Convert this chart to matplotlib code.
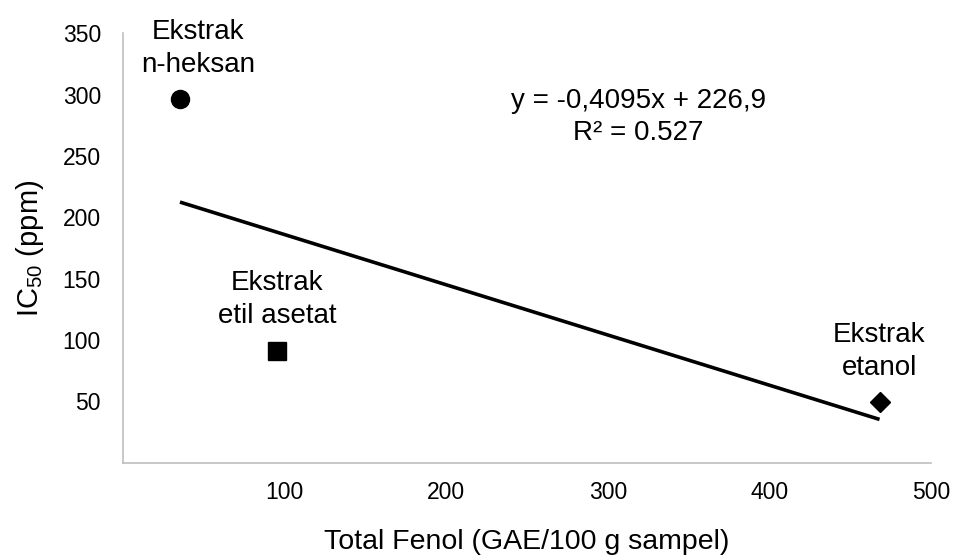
import numpy as np
import matplotlib
matplotlib.use("Agg")
import matplotlib.pyplot as plt

# ---------------------------------------------------
# Data
# ---------------------------------------------------

extract_labels = ["Ekstrak\nn-heksan", "Ekstrak\netil asetat", "Ekstrak\netanol"]
total_fenol = [35.2, 95.4, 468.1]
ic50_ppm = [296.2, 91.0, 49.5]

trend_slope = -0.4095
trend_intercept = 226.9
equation_text = "y = -0,4095x + 226,9\nR² = 0.527"

x_ticks = [100, 200, 300, 400, 500]
y_ticks = [50, 100, 150, 200, 250, 300, 350]

# ---------------------------------------------------
# Styles
# ---------------------------------------------------

plt.rcParams["font.family"] = ["Liberation Sans", "DejaVu Sans"]
plt.rcParams["mathtext.fontset"] = "custom"
plt.rcParams["mathtext.rm"] = "Liberation Sans"
plt.rcParams["mathtext.it"] = "Liberation Sans"

MARKERS = [("o", 13), ("s", 12.5), ("D", 10)]
LABEL_OFFSETS = [(13, 37), (0, 37), (0, 36)]
SPINE_COLOR = "#BFBFBF"

# ---------------------------------------------------
# Figure
# ---------------------------------------------------

fig = plt.figure(figsize=(9.54, 5.58), dpi=100)
ax = fig.add_axes([0.129, 0.171, 0.847, 0.769])

for i in range(len(total_fenol)):
    shape, size = MARKERS[i]
    ax.plot(
        total_fenol[i],
        ic50_ppm[i],
        marker=shape,
        markersize=size,
        color="black",
        linestyle="none",
        zorder=3
    )
    ax.annotate(
        extract_labels[i],
        xy=(total_fenol[i], ic50_ppm[i]),
        xytext=LABEL_OFFSETS[i],
        textcoords="offset points",
        ha="center",
        va="center",
        fontsize=20,
        linespacing=1.35
    )

# trendline over the data range
trend_x = np.array([min(total_fenol), max(total_fenol)])
trend_y = trend_slope * trend_x + trend_intercept
ax.plot(trend_x, trend_y, color="black", linewidth=2.6, solid_capstyle="butt", zorder=2)

ax.text(319, 282, equation_text, ha="center", va="center", fontsize=20, linespacing=1.3)

# ---------------------------------------------------
# Axes
# ---------------------------------------------------

ax.set_xlim(0, 500)
ax.set_ylim(0, 350)
ax.set_xticks(x_ticks)
ax.set_yticks(y_ticks)
ax.tick_params(axis="both", length=0, labelsize=16.5)
ax.tick_params(axis="x", pad=13)
ax.tick_params(axis="y", pad=16)

for side in ["top", "right"]:
    ax.spines[side].set_visible(False)
for side in ["left", "bottom"]:
    ax.spines[side].set_color(SPINE_COLOR)
    ax.spines[side].set_linewidth(1.2)

ax.set_xlabel("Total Fenol (GAE/100 g sampel)", fontsize=20.5, labelpad=18)
ax.set_ylabel(r"IC$_{\mathrm{50}}$ (ppm)", fontsize=21, labelpad=12)

plt.savefig("out.png", dpi=100)
plt.close()
